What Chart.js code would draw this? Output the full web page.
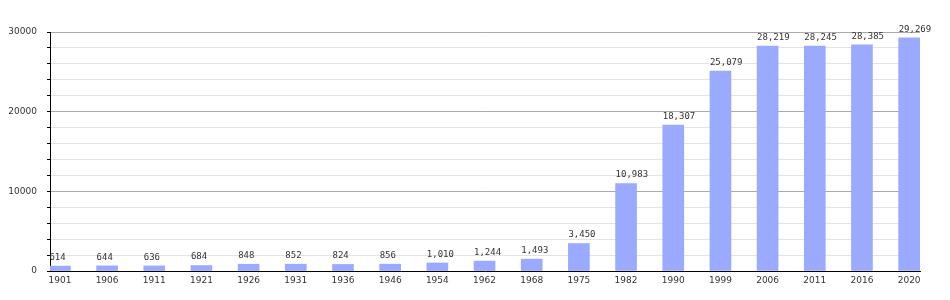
<!DOCTYPE html>
<html>
<head>
<meta charset="utf-8">
<script src="https://cdn.jsdelivr.net/npm/chart.js@4/dist/chart.umd.min.js"></script>
<style>
  body { margin: 0; background: #fff; }
  #wrap { width: 950px; height: 300px; }
</style>
</head>
<body>
<div id="wrap"><canvas id="popChart"></canvas></div>
<script>
// Population by census year
const years = ['1901', '1906', '1911', '1921', '1926', '1931', '1936', '1946', '1954', '1962',
               '1968', '1975', '1982', '1990', '1999', '2006', '2011', '2016', '2020'];
const population = [614, 644, 636, 684, 848, 852, 824, 856, 1010, 1244,
                    1493, 3450, 10983, 18307, 25079, 28219, 28245, 28385, 29269];
const yMajorTicks = [0, 10000, 20000, 30000];

const fontFamily = "'DejaVu Sans', Verdana, sans-serif";

// draws the value above each bar, left aligned on the bar edge
const valueLabels = {
    id: 'valueLabels',
    afterDatasetsDraw(chart) {
        const ctx = chart.ctx;
        const meta = chart.getDatasetMeta(0);
        ctx.save();
        ctx.font = "9px 'DejaVu Sans Mono', monospace";
        ctx.fillStyle = '#333';
        ctx.textAlign = 'left';
        ctx.textBaseline = 'bottom';
        meta.data.forEach((bar, i) => {
            ctx.fillText(population[i].toLocaleString('en-US'), bar.x - bar.width / 2, bar.y - 4);
        });
        ctx.restore();
    }
};

new Chart(document.getElementById('popChart'), {
    type: 'bar',
    data: {
        datasets: [{
            data: population.map((v, i) => ({ x: i, y: v })),
            backgroundColor: '#99aaff',
            barThickness: 21
        }]
    },
    options: {
        responsive: true,
        maintainAspectRatio: false,
        animation: false,
        layout: { padding: { left: 0, right: 30, top: 32, bottom: 0 } },
        plugins: {
            legend: { display: false },
            tooltip: { enabled: false }
        },
        scales: {
            x: {
                type: 'linear',
                offset: false,
                min: -0.21,
                max: 18.23,
                afterFit: scale => { scale.height = 29; },
                grid: { display: false, drawTicks: false },
                border: { display: true, color: '#000', width: 1 },
                ticks: {
                    stepSize: 1,
                    includeBounds: false,
                    autoSkip: false,
                    maxRotation: 0,
                    padding: 4,
                    color: '#333',
                    font: { family: fontFamily, size: 9 },
                    callback: v => Number.isInteger(v) ? years[v] : ''
                }
            },
            y: {
                min: 0,
                max: 30000,
                afterFit: scale => { scale.width = 50; },
                grid: {
                    color: ctx => (ctx.tick && yMajorTicks.includes(ctx.tick.value)) ? '#aaaaaa' : '#e3e3e3',
                    tickColor: '#000',
                    tickLength: 3
                },
                border: { display: true, color: '#000', width: 1 },
                ticks: {
                    stepSize: 2000,
                    autoSkip: false,
                    padding: 10,
                    color: '#333',
                    font: { family: fontFamily, size: 9 },
                    callback: v => yMajorTicks.includes(v) ? String(v) : ''
                }
            }
        }
    },
    plugins: [valueLabels]
});
</script>
</body>
</html>
